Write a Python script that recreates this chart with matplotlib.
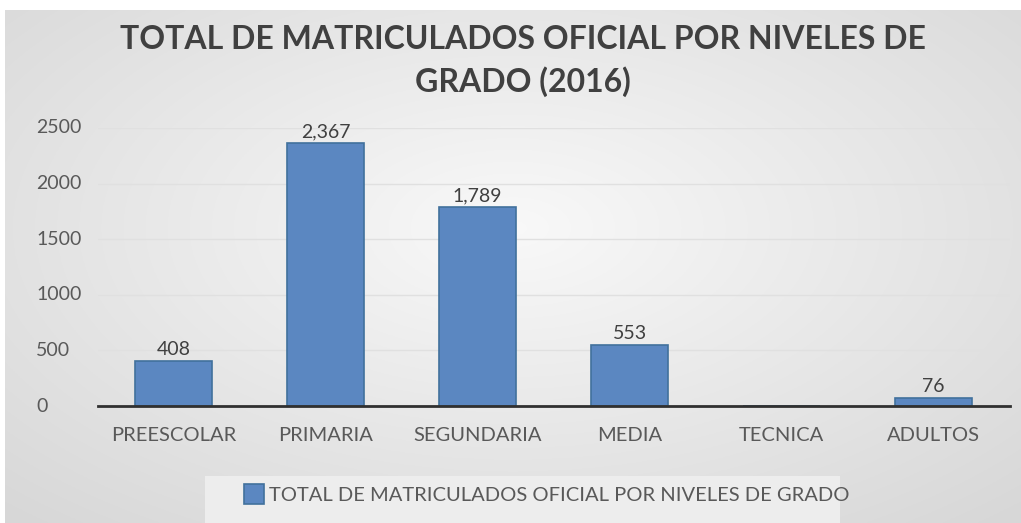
import numpy as np
import matplotlib
matplotlib.use('Agg')
from matplotlib import pyplot as plt
from matplotlib.patches import Patch, Rectangle

categories = ['PREESCOLAR', 'PRIMARIA', 'SEGUNDARIA', 'MEDIA', 'TECNICA', 'ADULTOS']
values = [408, 2367, 1789, 553, 0, 76]
y_ticks = [0, 500, 1000, 1500, 2000, 2500]
title = 'TOTAL DE MATRICULADOS OFICIAL POR NIVELES DE\nGRADO (2016)'
series_name = 'TOTAL DE MATRICULADOS OFICIAL POR NIVELES DE GRADO'

plt.rcParams['font.family'] = ['Lato', 'DejaVu Sans']

fig = plt.figure(figsize=(10.21, 5.23), dpi=100)
fig.patch.set_facecolor('white')

# gradient background (radial, lighter in the middle)
bg = fig.add_axes([0.005, 0.0, 0.995, 0.98])
yy, xx = np.mgrid[-1:1:300j, -1:1:600j]
r = np.sqrt((xx * 0.9) ** 2 + ((yy + 0.15) * 0.85) ** 2)
shade = 0.975 - 0.13 * np.clip(r, 0, 1.3) / 1.3
bg.imshow(np.dstack([shade] * 3), aspect='auto', extent=[0, 1, 0, 1])
bg.axis('off')

# light box behind the legend
fig.patches.append(Rectangle((205 / 1021, 0), (840 - 205) / 1021, 47 / 523,
                             transform=fig.transFigure, facecolor='#ededed',
                             edgecolor='none', zorder=1))

ax = fig.add_axes([97.5 / 1021, 1 - 406 / 523, (1009.5 - 97.5) / 1021, (406 - 128) / 523])
ax.set_facecolor('none')
x = np.arange(len(categories))
ax.bar(x, values, width=0.507, color='#5b87c1', edgecolor='#41719c', linewidth=1.2, zorder=3)
for xi, v in zip(x, values):
    if v > 0:
        ax.text(xi, v + 25, f'{v:,}', ha='center', va='bottom', fontsize=14, color='#404040')

ax.set_xlim(-0.5, len(categories) - 0.5)
ax.set_ylim(0, 2500)
ax.set_yticks(y_ticks)
ax.set_yticklabels([])
# y labels are left aligned in the original
for t in y_ticks:
    ax.text((36 - 97.5) / 912, t, str(t), transform=ax.get_yaxis_transform(),
            ha='left', va='center', fontsize=14, color='#595959')
ax.set_xticks(x)
ax.set_xticklabels(categories)
ax.tick_params(axis='y', length=0)
ax.tick_params(axis='x', length=0, pad=15, labelsize=14.5, labelcolor='#595959')
ax.grid(axis='y', color='#e0e0e0', linewidth=1, zorder=0)
for s in ['top', 'right', 'left']:
    ax.spines[s].set_visible(False)
ax.spines['bottom'].set_color('#303030')
ax.spines['bottom'].set_linewidth(2)
ax.spines['bottom'].set_zorder(4)

fig.text(523 / 1021, 1 - 61 / 523, title, ha='center', va='center', fontsize=23,
         fontweight='bold', color='#404040', linespacing=1.5)

handle = Patch(facecolor='#5b87c1', edgecolor='#41719c', linewidth=1.2)
leg = fig.legend([handle], [series_name], loc='center left', bbox_to_anchor=(228 / 1021, 1 - 494 / 523),
                 frameon=False, fontsize=14.5, handlelength=1.0, handleheight=1.2,
                 handletextpad=0.25, borderpad=0.3, labelcolor='#595959')

fig.savefig('out.png', dpi=100)
